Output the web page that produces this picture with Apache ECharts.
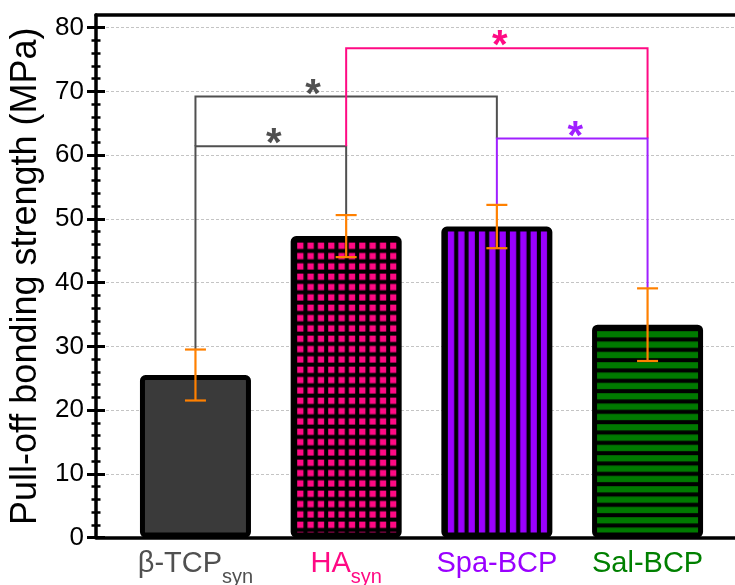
<!DOCTYPE html>
<html>
<head>
<meta charset="utf-8">
<script src="https://cdn.jsdelivr.net/npm/echarts@6/dist/echarts.min.js"></script>
<style>
  html, body { margin: 0; padding: 0; background: #ffffff; }
  #chart { width: 735px; height: 585px; }
</style>
</head>
<body>
<div id="chart"></div>
<script>
// Groups and their positions along the x scale
const groups = ['β-TCP', 'HA', 'Spa-BCP', 'Sal-BCP'];
const subscripts = ['syn', 'syn', '', ''];
const groupPos = [1, 2, 3, 4];

// Mean pull-off bonding strength (MPa) and standard deviation
const means = [25.5, 47.3, 48.8, 33.4];
const sds = [4.0, 3.3, 3.4, 5.7];

// Y axis ticks
const yTickMin = 0;
const yTickMax = 80;
const yTickStep = 10;

// Significance brackets: left group, right group, bracket height, left foot, right foot
const bracketLeft = [1, 1, 2, 3];
const bracketRight = [2, 3, 4, 4];
const bracketTop = [61.4, 69.2, 76.8, 62.6];
const bracketFootL = [29.5, 61.4, 61.4, 52.2];
const bracketFootR = [50.6, 62.6, 62.6, 39.1];
const starX = [1.52, 1.78, 3.02, 3.52];

// Styling
const labelColors = ['#505050', '#ff0a84', '#9a00ff', '#008000'];
const barColors = ['#3a3a3a', '#ff0a84', '#9a00ff', '#007a00'];
const patternKinds = ['solid', 'grid', 'vstripe', 'hstripe'];
const bracketColors = ['#505050', '#505050', '#ff0a84', '#a020ff'];
const FONT = 'Arial, "Liberation Sans", Helvetica, sans-serif';

const GRID_LEFT = 96, GRID_TOP = 15, GRID_H = 522.5;
const X_MIN = 0.34, X_MAX = 4.64, X_STEP_PX = 150.7;
const GRID_W = (X_MAX - X_MIN) * X_STEP_PX;
const Y_MAX = 82;
const BAR_W = 111;
const BAR_BORDER = 5;

function makeTile(kind, color) {
  const size = 31, pitch = size / 3, mark = 6.3;
  const c = document.createElement('canvas');
  c.width = size; c.height = size;
  const g = c.getContext('2d');
  g.fillStyle = '#000000';
  g.fillRect(0, 0, size, size);
  g.fillStyle = color;
  for (let i = 0; i < 3; i++) {
    if (kind === 'grid') {
      for (let j = 0; j < 3; j++) g.fillRect(i * pitch, j * pitch, mark, mark);
    } else if (kind === 'vstripe') {
      g.fillRect(i * pitch, 0, mark, size);
    } else {
      g.fillRect(0, i * pitch, size, mark);
    }
  }
  return c;
}

const rich = {};
groups.forEach((g, i) => {
  rich['m' + i] = { fontSize: 29, fontFamily: FONT, color: labelColors[i], lineHeight: 32, verticalAlign: 'top' };
  rich['s' + i] = { fontSize: 20, fontFamily: FONT, color: labelColors[i], lineHeight: 20, padding: [18, 0, 0, 0], verticalAlign: 'top' };
});

const chart = echarts.init(document.getElementById('chart'), null, { renderer: 'canvas' });

function barData(colorFor) {
  return groupPos.map((x, i) => ({
    value: [x, means[i]],
    itemStyle: { color: colorFor(i) }
  }));
}

// Shared settings for the two tick-only axes (outer and inner halves of each tick)
function tickAxis(inside) {
  return {
    type: 'value', gridIndex: 1, position: 'left', offset: 0,
    min: yTickMin, max: yTickMax, interval: yTickStep,
    axisLine: { show: true, onZero: false, lineStyle: { color: 'rgba(0,0,0,0)', width: 0 } },
    axisTick: { show: true, inside: inside, length: 9, lineStyle: { color: '#000', width: 3 } },
    minorTick: { show: true, splitNumber: 5, length: 4.5, lineStyle: { color: '#000', width: 2.5 } },
    axisLabel: { show: false }, splitLine: { show: false }
  };
}

const option = {
  animation: false,
  backgroundColor: '#ffffff',
  grid: [
    { left: GRID_LEFT, top: GRID_TOP, width: GRID_W, height: GRID_H, outerBoundsMode: 'none', containLabel: false },
    { left: GRID_LEFT, top: GRID_TOP + GRID_H * (Y_MAX - yTickMax) / Y_MAX, width: GRID_W,
      height: GRID_H * yTickMax / Y_MAX, outerBoundsMode: 'none', containLabel: false }
  ],
  xAxis: [
    {
      type: 'value', gridIndex: 0, position: 'bottom', min: X_MIN, max: X_MAX,
      axisLine: { show: true, onZero: false, lineStyle: { color: '#000', width: 3.5 } },
      axisTick: { show: false },
      splitLine: { show: false },
      axisLabel: {
        customValues: groupPos,
        margin: 12,
        formatter: v => {
          const i = groupPos.indexOf(v);
          if (i < 0) return '';
          return '{m' + i + '|' + groups[i] + '}' + (subscripts[i] ? '{s' + i + '|' + subscripts[i] + '}' : '');
        },
        rich: rich
      }
    },
    {
      type: 'value', gridIndex: 0, position: 'top', min: X_MIN, max: X_MAX,
      axisLine: { show: true, onZero: false, lineStyle: { color: '#000', width: 3.5 } },
      axisTick: { show: false }, axisLabel: { show: false }, splitLine: { show: false }
    },
    {
      type: 'value', gridIndex: 1, position: 'bottom', min: X_MIN, max: X_MAX,
      axisLine: { show: false }, axisTick: { show: false }, axisLabel: { show: false }, splitLine: { show: false }
    }
  ],
  yAxis: [
    {
      type: 'value', gridIndex: 0, min: 0, max: Y_MAX, interval: yTickStep,
      name: 'Pull-off bonding strength (MPa)',
      nameLocation: 'middle', nameRotate: 90, nameGap: 46,
      nameTextStyle: { fontSize: 36, fontFamily: FONT, color: '#000' },
      axisLine: { show: true, onZero: false, lineStyle: { color: '#000', width: 3.5 } },
      axisTick: { show: false },
      axisLabel: {
        fontSize: 26, fontFamily: FONT, color: '#000', margin: 12,
        formatter: v => (v <= yTickMax && v % yTickStep === 0) ? String(v) : ''
      },
      splitLine: { show: true, lineStyle: { color: '#c4c4c4', width: 1, type: [3, 2] } }
    },
    tickAxis(false),
    tickAxis(true)
  ],
  series: [
    {
      id: 'bars', type: 'bar', xAxisIndex: 0, yAxisIndex: 0,
      barWidth: BAR_W, z: 2,
      itemStyle: { borderColor: '#000', borderWidth: BAR_BORDER, borderRadius: 3 },
      data: barData(i => barColors[i])
    },
    {
      id: 'brackets', type: 'custom', xAxisIndex: 0, yAxisIndex: 0, z: 3,
      data: bracketLeft.map((l, i) => [l, bracketRight[i], bracketTop[i], bracketFootL[i], bracketFootR[i], starX[i]]),
      renderItem: (params, api) => {
        const i = params.dataIndex;
        const a = api.coord([api.value(0), api.value(3)]);
        const b = api.coord([api.value(0), api.value(2)]);
        const c = api.coord([api.value(1), api.value(2)]);
        const d = api.coord([api.value(1), api.value(4)]);
        const s = api.coord([api.value(5), api.value(2)]);
        const color = bracketColors[i];
        return {
          type: 'group',
          children: [
            { type: 'polyline', shape: { points: [a, b, c, d] },
              style: { stroke: color, lineWidth: 2, fill: null } },
            { type: 'text', x: s[0], y: s[1] - 1,
              style: { text: '*', fill: color, fontSize: 40, fontWeight: 'bold', fontFamily: FONT,
                       align: 'center', verticalAlign: 'middle' } }
          ]
        };
      }
    },
    {
      id: 'errors', type: 'custom', xAxisIndex: 0, yAxisIndex: 0, z: 4,
      data: groupPos.map((x, i) => [x, means[i], sds[i]]),
      renderItem: (params, api) => {
        const x = api.value(0), m = api.value(1), sd = api.value(2);
        const hi = api.coord([x, m + sd]);
        const lo = api.coord([x, m - sd]);
        const cap = 10.5;
        const st = { stroke: '#ff8000', lineWidth: 2.2 };
        return {
          type: 'group',
          children: [
            { type: 'line', shape: { x1: hi[0], y1: hi[1], x2: lo[0], y2: lo[1] }, style: st },
            { type: 'line', shape: { x1: hi[0] - cap, y1: hi[1], x2: hi[0] + cap, y2: hi[1] }, style: st },
            { type: 'line', shape: { x1: lo[0] - cap, y1: lo[1], x2: lo[0] + cap, y2: lo[1] }, style: st }
          ]
        };
      }
    }
  ]
};

chart.setOption(option);

// Fill the patterned bars, anchoring each tile just inside the bar's border
const patterned = barData(i => {
  if (patternKinds[i] === 'solid') return barColors[i];
  const left = chart.convertToPixel({ xAxisIndex: 0 }, groupPos[i]) - BAR_W / 2;
  const top = chart.convertToPixel({ yAxisIndex: 0 }, means[i]);
  return {
    image: makeTile(patternKinds[i], barColors[i]),
    repeat: 'repeat',
    x: left + BAR_BORDER + 1.5,
    y: top + BAR_BORDER + 1.5
  };
});
chart.setOption({ series: [{ id: 'bars', data: patterned }] });
</script>
</body>
</html>
